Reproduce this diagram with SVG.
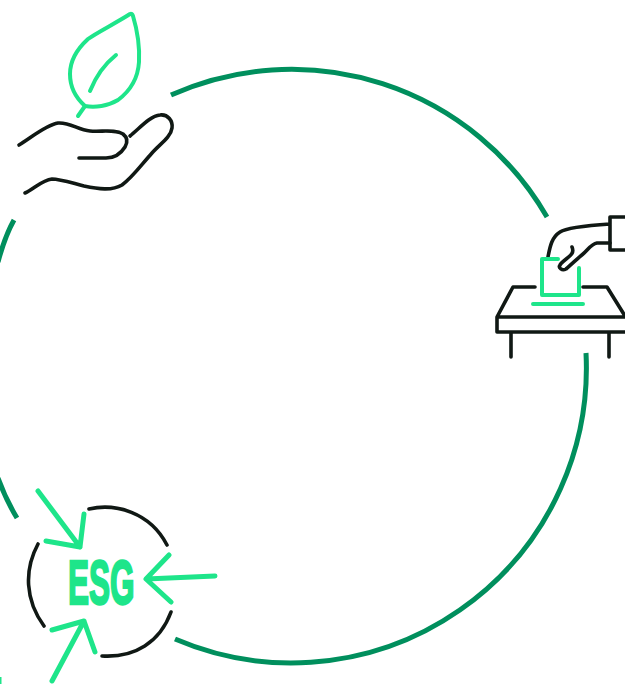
<svg xmlns="http://www.w3.org/2000/svg" width="625" height="684" viewBox="0 0 625 684">
<style>
.ring{fill:none;stroke:#008f5d;stroke-width:5}
.k{fill:none;stroke:#101814;stroke-width:3.6;stroke-linecap:round;stroke-linejoin:round}
.g{fill:none;stroke:#1ee58a;stroke-width:4;stroke-linecap:round;stroke-linejoin:round}
.a{fill:none;stroke:#1ee58a;stroke-width:5;stroke-linecap:round;stroke-linejoin:round}
.t{font-family:"Liberation Sans",Arial,sans-serif;font-weight:700;font-size:63px;fill:#1ee58a;stroke:#1ee58a;stroke-width:2.5}
</style>
<rect width="625" height="684" fill="#fff"/>
<g id="connectors">
<path class="ring" d="M171 95A295 295 0 0 1 547 217"/>
<path class="ring" d="M586 353A295 295 0 0 1 175 639"/>
<path class="ring" d="M14 220Q5 236 -2 262"/>
<path class="ring" d="M17 518Q6 500 -2 478"/>
<path d="M0 677V684" fill="none" stroke="#1ee58a" stroke-width="3"/>
</g>
<g id="leaf-hand">
<path class="g" d="M130 14C116 23 96 33 88 39C76 50 70 62 70 74C70 88 76 98 85 106C95 108 108 106 118 100C130 91 138 78 139 62C140 42 136 26 133 16Q132 13 130 14Z"/>
<path class="g" d="M85 106L78 116M116 55C106 63 96 76 90 91"/>
<path class="k" d="M19 145C32 137 46 125 58 123C70 122 78 130 90 131C102 132 115 129 123 134C128 138 128 142 125 147C120 155 114 158 106 158H79"/>
<path class="k" d="M130 136C140 128 150 116 160 115C168 114 173 121 172 128C171 137 160 144 152 153C142 164 132 178 122 185C112 191 98 189 84 186C72 183 60 179 52 179C42 180 34 189 25 193"/>
</g>
<g id="ballot">
<path class="k" d="M548 257C550 246 552 237 560 232C566 228 580 226 610 224M625 217H610V250H625"/>
<path class="k" d="M610 243H597C591 244 588 250 583 254C578 258 572 264 566 269C562 271 558 268 560 265C564 258 576 256 572 247"/>
<path class="g" d="M558 259H542V295H579V268M533 304H583"/>
<path class="k" d="M535 287H513L497 317V332H625M497 317H625M583 287H607L625 316M511 333V357M609 333V357"/>
</g>
<g id="esg">
<path class="k" d="M89 509C115 503 150 512 167 545M38 544C24 570 25 600 44 626M171 612C160 642 135 658 102 656"/>
<text class="t" transform="translate(68 604) scale(.5 1)">ESG</text>
<path class="a" d="M38 491L80 547M46 541L80 547L84 514M215 576L146 579M169 555L146 579L171 602M52 681L84 621M52 630L84 621L95 652"/>
</g>
</svg>
